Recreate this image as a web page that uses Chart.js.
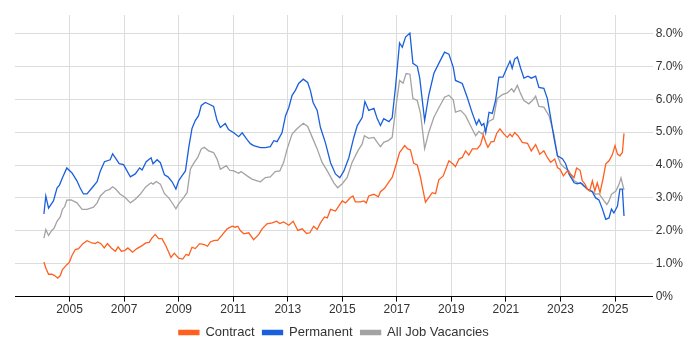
<!DOCTYPE html>
<html>
<head>
<meta charset="utf-8">
<script src="https://cdn.jsdelivr.net/npm/chart.js@4.4.1/dist/chart.umd.min.js"></script>
<style>
  html, body { margin: 0; padding: 0; background: #fff; }
  #wrap { width: 700px; height: 350px; }
</style>
</head>
<body>
<div id="wrap"><canvas id="chart"></canvas></div>
<script>
// ---------- DATA ([year, percent]) ----------
const contract = [
  [2004.06,1.05],[2004.13,0.87],[2004.23,0.68],[2004.35,0.68],[2004.45,0.64],[2004.57,0.56],[2004.66,0.64],
  [2004.74,0.82],[2004.90,0.97],[2004.99,1.04],[2005.09,1.25],[2005.21,1.43],[2005.33,1.46],[2005.49,1.61],
  [2005.64,1.70],[2005.82,1.63],[2005.94,1.61],[2006.04,1.66],[2006.16,1.60],[2006.27,1.48],[2006.39,1.61],
  [2006.53,1.48],[2006.68,1.38],[2006.78,1.51],[2006.90,1.38],[2007.02,1.40],[2007.14,1.48],[2007.31,1.35],
  [2007.47,1.46],[2007.66,1.55],[2007.80,1.63],[2007.92,1.65],[2008.02,1.78],[2008.14,1.89],[2008.27,1.76],
  [2008.39,1.76],[2008.54,1.53],[2008.72,1.19],[2008.84,1.32],[2009.00,1.17],[2009.15,1.14],[2009.27,1.28],
  [2009.37,1.25],[2009.49,1.50],[2009.61,1.46],[2009.77,1.61],[2009.94,1.58],[2010.06,1.53],[2010.16,1.66],
  [2010.31,1.71],[2010.43,1.71],[2010.59,1.87],[2010.78,2.06],[2010.96,2.14],[2011.08,2.11],[2011.17,2.14],
  [2011.26,2.01],[2011.39,1.91],[2011.57,1.94],[2011.75,1.73],[2011.94,1.89],[2012.06,2.06],[2012.24,2.21],
  [2012.43,2.24],[2012.59,2.29],[2012.71,2.22],[2012.85,2.27],[2013.04,2.17],[2013.20,2.29],[2013.37,2.01],
  [2013.53,2.06],[2013.69,1.92],[2013.81,1.94],[2013.95,2.14],[2014.08,2.04],[2014.20,2.24],[2014.35,2.42],
  [2014.45,2.39],[2014.57,2.65],[2014.75,2.60],[2014.87,2.75],[2015.00,2.91],[2015.12,2.85],[2015.30,3.01],
  [2015.39,3.06],[2015.48,2.88],[2015.67,2.88],[2015.79,2.91],[2015.88,2.85],[2015.97,3.06],[2016.16,3.11],
  [2016.32,3.03],[2016.40,3.19],[2016.55,3.29],[2016.71,3.49],[2016.83,3.62],[2016.98,4.03],[2017.10,4.38],
  [2017.20,4.49],[2017.29,4.59],[2017.40,4.49],[2017.50,4.46],[2017.62,4.05],[2017.75,4.00],[2017.87,3.62],
  [2017.93,3.36],[2018.05,2.87],[2018.17,3.01],[2018.30,3.16],[2018.42,3.13],[2018.54,3.55],[2018.70,3.67],
  [2018.91,4.13],[2019.06,4.03],[2019.15,3.95],[2019.28,4.18],[2019.40,4.23],[2019.52,4.43],[2019.64,4.30],
  [2019.77,4.49],[2019.95,4.49],[2020.07,4.62],[2020.17,4.92],[2020.26,4.69],[2020.34,4.54],[2020.46,4.71],
  [2020.56,4.71],[2020.66,4.96],[2020.78,5.10],[2020.93,4.94],[2021.05,4.84],[2021.15,4.94],[2021.23,4.86],
  [2021.32,4.99],[2021.44,4.89],[2021.60,4.69],[2021.79,4.66],[2021.93,4.43],[2022.09,4.62],[2022.24,4.33],
  [2022.39,4.43],[2022.52,4.23],[2022.64,4.08],[2022.79,4.18],[2022.89,3.92],[2022.98,3.87],[2023.11,3.67],
  [2023.25,3.82],[2023.37,3.72],[2023.50,3.62],[2023.59,3.91],[2023.72,3.84],[2023.80,3.52],[2023.90,3.42],
  [2023.99,3.26],[2024.07,3.21],[2024.17,3.52],[2024.26,3.21],[2024.35,3.46],[2024.45,3.16],[2024.57,3.62],
  [2024.66,4.03],[2024.78,4.13],[2024.90,4.31],[2025.00,4.59],[2025.09,4.33],[2025.18,4.28],[2025.27,4.38],
  [2025.33,4.96]
];

const permanent = [
  [2004.06,2.51],[2004.13,3.06],[2004.23,2.69],[2004.41,2.91],[2004.54,3.30],[2004.63,3.39],[2004.74,3.61],
  [2004.90,3.91],[2005.09,3.76],[2005.27,3.52],[2005.39,3.30],[2005.51,3.12],[2005.64,3.12],[2005.82,3.30],
  [2006.01,3.49],[2006.13,3.82],[2006.28,4.10],[2006.49,4.16],[2006.58,4.34],[2006.68,4.22],[2006.82,4.04],
  [2006.98,4.01],[2007.23,3.64],[2007.41,3.73],[2007.57,3.91],[2007.66,3.85],[2007.81,4.10],[2007.99,4.22],
  [2008.06,4.04],[2008.21,4.16],[2008.33,4.07],[2008.48,3.70],[2008.61,3.64],[2008.76,3.49],[2008.90,3.27],
  [2009.00,3.52],[2009.12,3.67],[2009.25,3.82],[2009.37,4.53],[2009.49,5.11],[2009.61,5.35],[2009.73,5.50],
  [2009.83,5.81],[2009.98,5.90],[2010.14,5.84],[2010.28,5.78],[2010.41,5.35],[2010.53,5.14],[2010.71,5.26],
  [2010.83,5.08],[2011.02,4.98],[2011.20,4.86],[2011.33,4.98],[2011.51,4.77],[2011.63,4.65],[2011.75,4.59],
  [2012.00,4.53],[2012.18,4.53],[2012.36,4.56],[2012.49,4.74],[2012.61,4.71],[2012.79,4.98],[2012.92,5.50],
  [2013.04,5.75],[2013.16,6.12],[2013.28,6.27],[2013.40,6.48],[2013.57,6.61],[2013.73,6.51],[2013.83,6.27],
  [2013.93,5.90],[2014.08,5.66],[2014.20,5.14],[2014.38,4.68],[2014.57,4.07],[2014.75,3.73],[2014.91,3.61],
  [2015.06,3.82],[2015.24,4.22],[2015.42,4.83],[2015.55,5.20],[2015.73,5.44],[2015.83,5.93],[2015.97,5.66],
  [2016.16,5.72],[2016.28,5.41],[2016.40,5.20],[2016.52,5.41],[2016.71,5.32],[2016.83,5.44],[2016.95,6.36],
  [2017.10,7.71],[2017.20,7.58],[2017.32,7.89],[2017.48,8.01],[2017.59,7.09],[2017.75,7.00],[2017.84,6.64],
  [2018.02,5.35],[2018.17,6.12],[2018.36,6.79],[2018.54,7.09],[2018.75,7.43],[2018.91,7.37],[2019.07,6.97],
  [2019.15,6.57],[2019.40,6.48],[2019.58,6.06],[2019.77,5.57],[2019.92,5.23],[2020.01,5.38],[2020.11,5.20],
  [2020.19,5.26],[2020.26,4.98],[2020.38,5.60],[2020.50,5.57],[2020.62,5.96],[2020.74,6.67],[2020.89,6.67],
  [2021.03,6.94],[2021.15,7.16],[2021.23,6.94],[2021.32,7.22],[2021.42,7.28],[2021.54,6.94],[2021.66,6.64],
  [2021.81,6.70],[2021.93,6.64],[2022.09,6.70],[2022.21,6.36],[2022.39,6.33],[2022.52,6.02],[2022.64,5.44],
  [2022.76,4.83],[2022.89,4.28],[2023.07,4.19],[2023.19,4.04],[2023.31,3.73],[2023.50,3.46],[2023.62,3.43],
  [2023.74,3.46],[2023.86,3.36],[2023.99,3.27],[2024.17,3.18],[2024.29,3.00],[2024.41,2.94],[2024.54,2.66],
  [2024.66,2.35],[2024.78,2.39],[2024.87,2.66],[2024.96,2.54],[2025.09,2.75],[2025.18,3.27],[2025.27,3.27],
  [2025.33,2.45]
];

const allJobs = [
  [2004.06,1.78],[2004.13,2.04],[2004.23,1.86],[2004.35,2.01],[2004.44,2.09],[2004.54,2.29],[2004.66,2.42],
  [2004.74,2.65],[2004.82,2.73],[2004.90,2.93],[2005.06,2.94],[2005.27,2.85],[2005.46,2.65],[2005.64,2.65],
  [2005.88,2.72],[2006.01,2.85],[2006.13,3.06],[2006.31,3.21],[2006.47,3.26],[2006.58,3.34],[2006.68,3.28],
  [2006.86,3.11],[2007.04,3.01],[2007.23,2.85],[2007.41,2.96],[2007.59,3.11],[2007.80,3.34],[2007.99,3.46],
  [2008.06,3.42],[2008.18,3.50],[2008.33,3.42],[2008.48,3.13],[2008.63,3.01],[2008.78,2.83],[2008.90,2.67],
  [2009.00,2.82],[2009.18,3.01],[2009.31,3.16],[2009.43,3.87],[2009.55,4.05],[2009.70,4.23],[2009.83,4.49],
  [2009.94,4.54],[2010.10,4.43],[2010.28,4.38],[2010.41,4.18],[2010.53,3.87],[2010.75,3.98],[2010.87,3.84],
  [2011.02,3.82],[2011.20,3.75],[2011.29,3.80],[2011.51,3.67],[2011.69,3.57],[2011.88,3.52],[2012.00,3.49],
  [2012.18,3.62],[2012.36,3.64],[2012.54,3.80],[2012.71,3.82],[2012.85,4.08],[2012.98,4.49],[2013.16,4.94],
  [2013.34,5.10],[2013.57,5.27],[2013.73,5.17],[2013.90,4.84],[2014.08,4.49],[2014.26,4.08],[2014.45,3.82],
  [2014.69,3.46],[2014.83,3.31],[2015.00,3.43],[2015.18,3.62],[2015.36,4.08],[2015.57,4.43],[2015.73,4.64],
  [2015.81,4.89],[2015.97,4.81],[2016.16,4.84],[2016.28,4.69],[2016.40,4.56],[2016.52,4.69],[2016.68,4.74],
  [2016.83,4.84],[2016.95,5.66],[2017.10,6.57],[2017.23,6.49],[2017.34,6.78],[2017.48,6.76],[2017.59,6.02],
  [2017.75,5.96],[2017.87,5.56],[2018.02,4.50],[2018.17,4.99],[2018.36,5.45],[2018.54,5.74],[2018.75,6.06],
  [2018.91,6.12],[2019.07,5.98],[2019.15,5.61],[2019.34,5.66],[2019.52,5.50],[2019.70,5.20],[2019.89,4.89],
  [2020.01,5.02],[2020.13,4.94],[2020.26,5.10],[2020.38,5.33],[2020.54,5.40],[2020.68,6.02],[2020.87,6.14],
  [2021.05,6.19],[2021.21,6.32],[2021.29,6.22],[2021.42,6.42],[2021.54,6.17],[2021.66,5.96],[2021.84,5.86],
  [2021.97,5.96],[2022.09,6.09],[2022.21,5.78],[2022.39,5.76],[2022.58,5.50],[2022.76,4.94],[2022.89,4.28],
  [2023.01,4.03],[2023.15,3.92],[2023.31,3.82],[2023.50,3.52],[2023.64,3.46],[2023.80,3.43],[2023.99,3.26],
  [2024.17,3.21],[2024.29,3.11],[2024.41,3.13],[2024.60,2.91],[2024.70,2.80],[2024.78,2.91],[2024.87,3.11],
  [2025.03,3.21],[2025.15,3.42],[2025.22,3.61],[2025.33,3.24]
];

const seriesNames = ["Contract", "Permanent", "All Job Vacancies"];
const yearTicks = [2005, 2007, 2009, 2011, 2013, 2015, 2017, 2019, 2021, 2023, 2025];
const percentTicks = [0, 1, 2, 3, 4, 5, 6, 7, 8];

// ---------- HELPERS ----------
function toPoints(rows) {
    return rows.map(r => ({ x: r[0], y: r[1] }));
}

function makeSet(label, rows, color) {
    return {
        label: label,
        data: toPoints(rows),
        borderColor: color,
        backgroundColor: color,
        borderWidth: 1.3,
        pointRadius: 0,
        tension: 0
    };
}

const font = { family: "Arial, 'Liberation Sans', sans-serif", size: 12 };

// centre the legend under the plot area instead of the whole canvas
const legendUnderPlot = {
    id: "legendUnderPlot",
    afterLayout(chart) {
        const lg = chart.legend;
        if (!lg) return;
        lg.left = chart.chartArea.left;
        lg.right = chart.chartArea.right;
    }
};

// ---------- CHART ----------
new Chart(document.getElementById("chart").getContext("2d"), {
    type: "line",
    data: {
        datasets: [
            makeSet(seriesNames[0], contract, "#ff5f1f"),
            makeSet(seriesNames[1], permanent, "#1a5fdc"),
            makeSet(seriesNames[2], allJobs, "#a3a3a3")
        ]
    },
    plugins: [legendUnderPlot],
    options: {
        responsive: true,
        maintainAspectRatio: false,
        animation: false,
        layout: { padding: { left: 15, top: 15, right: 14, bottom: 1 } },
        plugins: {
            tooltip: { enabled: false },
            legend: {
                position: "bottom",
                labels: {
                    boxWidth: 20,
                    boxHeight: 4,
                    padding: 8,
                    color: "#333",
                    font: { family: font.family, size: 13 }
                }
            }
        },
        scales: {
            x: {
                type: "linear",
                min: 2003.0,
                max: 2026.38,
                afterBuildTicks: axis => { axis.ticks = yearTicks.map(v => ({ value: v })); },
                ticks: {
                    color: "#333",
                    font: font,
                    padding: 1,
                    maxRotation: 0,
                    callback: v => String(v)
                },
                grid: { color: "#dcdcdc", tickColor: "#000", tickLength: 5 },
                border: { color: "#000", width: 1 }
            },
            y: {
                position: "right",
                min: 0,
                max: 8.56,
                afterBuildTicks: axis => { axis.ticks = percentTicks.map(v => ({ value: v })); },
                ticks: {
                    color: "#333",
                    font: font,
                    padding: 3,
                    callback: v => v === 0 ? "0%" : v.toFixed(1) + "%"
                },
                grid: { color: "#dcdcdc", drawTicks: false },
                border: { display: false }
            }
        }
    }
});
</script>
</body>
</html>
